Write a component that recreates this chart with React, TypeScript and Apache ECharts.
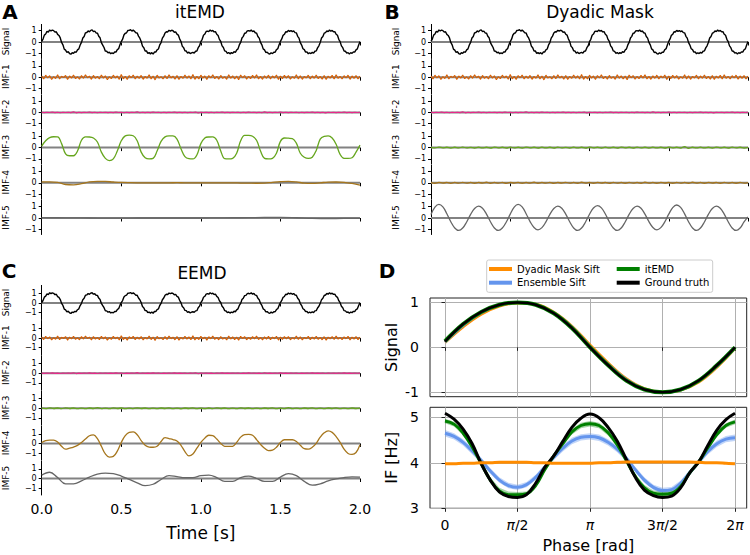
import React, { useEffect, useRef } from "react";
import * as echarts from "echarts";

const FONT = "DejaVu Sans";

// ---------- Panels A-C: time series sampled evenly over 0..2 s ----------
const signal = [
  0.05,0.26,0.61,0.71,0.94,0.88,1.07,0.97,1.06,1.01,0.87,0.91,0.67,0.58,0.36,-0.04,-0.25,-0.63,-0.72,-0.92,-0.86,-1.02,-1.08,-0.95,-1.0,-0.87,-0.91,-0.7,-0.61,-0.27,
  -0.03,0.35,0.49,0.81,0.84,0.98,0.9,1.03,1.07,0.92,0.96,0.8,0.79,0.51,0.37,-0.05,-0.27,-0.49,-0.81,-0.82,-0.96,-0.89,-1.04,-0.97,-1.03,-0.88,-0.89,-0.68,-0.59,-0.25,
  0.04,0.25,0.62,0.77,0.82,1.02,1.03,1.09,0.96,1.05,0.95,0.81,0.8,0.52,0.34,0.05,-0.36,-0.51,-0.79,-0.79,-1.01,-0.94,-1.05,-0.94,-1.07,-0.89,-0.89,-0.69,-0.62,-0.26,
  -0.05,0.34,0.52,0.8,0.91,0.89,1.04,0.97,1.04,1.0,0.86,0.9,0.69,0.61,0.28,0.04,-0.37,-0.5,-0.77,-0.8,-0.98,-0.9,-1.03,-0.96,-0.91,-0.98,-0.82,-0.8,-0.5,-0.33,
  0.03,0.24,0.6,0.7,0.93,0.97,0.92,1.07,0.96,1.02,0.89,0.92,0.69,0.58,0.23,0.05,-0.34,-0.49,-0.79,-0.83,-1.0,-0.93,-1.05,-0.94,-1.01,-0.86,-0.91,-0.71,-0.61,-0.26,
  -0.04,0.36,0.5,0.77,0.8,0.98,1.01,0.96,1.06,0.92,0.99,0.82,0.79,0.49,0.34,-0.03,-0.25,-0.61,-0.7,-0.93,-0.9,-1.02,-1.07,-0.95,-1.03,-0.9,-0.91,-0.68,-0.59,-0.25,
  0.05,0.27,0.59,0.68,0.91,0.89,1.03,0.94,1.02,0.91,0.98,0.83,0.81,0.5,0.34,-0.06,-0.27,-0.6,-0.68,-0.9,-0.88,-1.04,-0.95,-1.02,-0.92,-0.99,-0.82,-0.79,-0.52,-0.34,
  -0.04,0.35,0.49,0.78,0.83,0.99,0.92,1.06,0.95,1.02,0.9,0.92,0.69,0.59,0.24,0.03,-0.34,-0.5,-0.8,-0.82,-0.98,-0.94,-1.06,-0.94,-1.01,-0.87,-0.89,-0.69,-0.61,-0.26,
  0.04,
];

const imf1Noise = [
  0.1,-0.15,0.18,-0.07,0.13,-0.2,0.05,-0.12,0.21,-0.16,
  0.08,-0.04,0.16,-0.21,0.11,-0.08,0.19,-0.13,0.04,-0.18,
  0.15,-0.1,0.22,-0.05,0.1,-0.19,0.16,-0.11,0.07,-0.16,
  0.19,-0.08,0.13,-0.22,0.05,-0.13,0.18,-0.07,0.11,-0.19,
  0.24,-0.15,0.08,-0.21,0.15,-0.05,0.19,-0.16,0.1,-0.11,
  0.16,-0.19,0.07,-0.1,0.21,-0.15,0.11,-0.24,0.18,-0.08,
  0.05,-0.16,0.15,-0.13,0.22,-0.07,0.1,-0.18,0.16,-0.21,
  0.08,-0.11,0.19,-0.1,0.13,-0.16,0.25,-0.19,0.07,-0.15,
  0.18,-0.08,0.11,-0.21,0.15,-0.07,0.21,-0.13,0.08,-0.18,
  0.16,-0.11,0.05,-0.19,0.22,-0.1,0.13,-0.16,0.1,-0.22,
  0.19,-0.05,0.15,-0.18,0.08,-0.13,0.16,-0.08,0.21,-0.15,
  0.07,-0.19,0.13,-0.1,0.18,-0.16,0.11,-0.07,0.19,-0.21,
  0.1,-0.13,0.16,-0.08,0.15,-0.18,0.05,-0.11,0.22,-0.15,
  0.13,-0.19,0.08,-0.07,0.18,-0.16,0.11,-0.1,0.19,-0.13,
  0.07,-0.18,0.15,-0.21,0.1,-0.08,0.16,-0.15,0.21,-0.11,
  0.08,-0.16,0.13,-0.07,0.18,-0.19,0.11,-0.1,0.15,-0.16,
  0.1,
];

const imf2Noise = [
  0.01,-0.02,0.02,-0.01,0.03,-0.02,0.01,-0.03,0.02,-0.01,
  0.02,-0.02,0.05,-0.04,0.01,-0.02,0.02,-0.01,0.03,-0.02,
  0.01,-0.03,0.02,-0.01,0.02,-0.02,0.01,-0.02,0.03,-0.01,
  0.02,-0.03,0.01,-0.02,0.02,-0.01,0.06,-0.03,0.02,-0.02,
  0.01,-0.02,0.03,-0.01,0.02,-0.03,0.01,-0.02,0.02,-0.01,
  0.03,-0.02,0.01,-0.02,0.02,-0.03,0.02,-0.01,0.04,-0.05,
  0.02,-0.01,0.02,-0.02,0.01,-0.03,0.02,-0.01,0.03,-0.02,
  0.01,-0.02,0.02,-0.01,0.02,-0.03,0.01,-0.02,0.03,-0.01,
  0.02,-0.02,0.01,-0.03,0.05,-0.02,0.01,-0.02,0.02,-0.01,
  0.03,-0.02,0.01,-0.02,0.02,-0.01,0.02,-0.03,0.01,-0.02,
  0.02,-0.01,0.03,-0.02,0.01,-0.02,0.02,-0.04,0.02,-0.01,
  0.01,-0.02,0.02,-0.01,0.03,-0.02,0.01,-0.02,0.02,-0.01,
  0.01,
];

// itEMD
const itemdImf3 = [
  0.14,0.6,0.88,0.96,0.95,0.35,-0.55,-0.72,-0.72,-0.3,
  0.65,0.95,0.94,0.85,0.5,-0.4,-0.95,-1.15,-1.0,-0.3,
  0.6,1.04,1.1,1.05,0.6,-0.4,-0.9,-1.0,-0.95,-0.3,
  0.55,0.95,1.03,1.03,0.75,-0.1,-0.8,-0.98,-1.0,-0.65,
  0.35,0.85,0.94,0.95,0.65,-0.3,-0.98,-1.0,-0.95,-0.5,
  0.6,1.08,1.08,1.0,0.65,-0.3,-0.95,-1.0,-0.95,-0.5,
  0.55,0.85,0.83,0.8,0.4,-0.5,-0.85,-0.96,-0.85,-0.25,
  0.75,1.0,1.04,0.85,0.3,-0.6,-0.95,-0.96,-0.9,-0.4,
  0.22,
];
const itemdImf4 = [
  0.08,0.08,0.04,-0.15,-0.18,-0.08,0.08,0.13,0.12,0.07,
  0.03,0.01,0.0,0.0,-0.01,0.0,0.0,0.01,0.0,0.0,
  -0.01,0.0,0.0,0.0,0.0,-0.02,-0.03,-0.04,-0.03,0.04,
  0.1,0.13,0.08,-0.03,-0.05,0.0,0.06,0.07,0.04,-0.06,
  -0.2,
];
const itemdImf5 = [0.03,0.02,0.01,0.0,-0.01,-0.01,0.0,0.0,0.0,0.0,0.0,0.01,0.02,0.03,0.05,0.05,0.02,-0.03,-0.05,-0.04,-0.03];

// Dyadic mask
const maskImf3 = [
  0.03,-0.03,0.05,-0.02,0.03,-0.04,0.03,-0.03,0.05,-0.03,
  0.02,-0.04,0.04,-0.03,0.03,-0.05,0.04,-0.02,0.03,-0.04,
  0.05,-0.03,0.03,-0.04,0.04,-0.02,0.03,-0.05,0.04,-0.03,
  0.03,-0.04,0.05,-0.03,0.02,-0.04,0.04,-0.03,0.03,-0.04,
  0.05,-0.02,0.03,-0.04,0.04,-0.03,0.03,-0.05,0.04,-0.02,
  0.03,-0.04,0.05,-0.03,0.03,-0.04,0.04,-0.03,0.03,-0.05,
  0.04,-0.02,0.03,-0.04,0.09,-0.06,0.03,-0.03,0.04,-0.03,
  0.03,-0.04,0.04,-0.02,0.03,-0.04,0.05,-0.03,0.03,-0.04,
  0.02,
];
const maskImf4 = [
  0.02,-0.04,0.04,-0.02,0.03,-0.05,0.03,-0.03,0.04,-0.03,
  0.03,-0.04,0.03,-0.02,0.05,-0.04,0.03,-0.03,0.04,-0.05,
  0.03,-0.02,0.04,-0.04,0.03,-0.03,0.05,-0.04,0.03,-0.03,
  0.04,-0.05,0.03,-0.02,0.04,-0.03,0.03,-0.04,0.05,-0.03,
  0.03,-0.04,0.04,-0.02,0.03,-0.05,0.04,-0.03,0.03,-0.04,
  0.04,-0.03,0.03,-0.04,0.05,-0.03,0.03,-0.04,0.04,-0.02,
  0.03,-0.04,0.04,-0.03,0.03,-0.04,0.05,-0.03,0.03,-0.04,
  0.04,-0.02,0.03,-0.04,0.04,-0.03,0.03,-0.04,0.04,-0.03,
  0.02,
];
const maskImf5 = [
  0.3,0.96,1.2,0.98,0.38,-0.33,-0.88,-1.1,-0.89,-0.35,
  0.32,0.84,1.05,0.86,0.34,-0.33,-0.88,-1.1,-0.89,-0.35,
  0.34,0.96,1.2,0.98,0.38,-0.32,-0.84,-1.05,-0.85,-0.34,
  0.32,0.84,1.05,0.86,0.34,-0.33,-0.88,-1.1,-0.89,-0.35,
  0.33,0.88,1.1,0.9,0.35,-0.33,-0.88,-1.1,-0.89,-0.35,
  0.32,0.84,1.05,0.86,0.34,-0.32,-0.84,-1.05,-0.85,-0.34,
  0.34,0.92,1.15,0.94,0.37,-0.33,-0.88,-1.1,-0.89,-0.35,
  0.32,0.84,1.05,0.86,0.34,-0.33,-0.88,-1.1,-0.89,-0.35,
  0.1,
];

// EEMD
const eemdImf3 = [
  0.02,-0.03,0.04,-0.02,0.03,-0.04,0.05,-0.02,0.03,-0.03,
  0.02,-0.04,0.03,-0.02,0.06,-0.03,0.02,-0.03,0.04,-0.02,
  0.03,-0.04,0.02,-0.03,0.05,-0.02,0.03,-0.03,0.02,-0.04,
  0.03,-0.02,0.04,-0.03,0.02,-0.05,0.03,-0.02,0.04,-0.03,
  0.02,-0.03,0.03,-0.04,0.05,-0.02,0.03,-0.03,0.02,-0.03,
  0.04,-0.02,0.03,-0.04,0.02,-0.03,0.03,-0.02,0.04,-0.03,
  0.02,-0.03,0.07,-0.03,0.02,-0.04,0.03,-0.02,0.04,-0.03,
  0.02,-0.03,0.03,-0.02,0.04,-0.03,0.02,-0.03,0.03,-0.02,
  0.02,
];
const eemdImf4 = [
  0.1,0.3,0.35,0.35,0.15,-0.3,-0.6,-0.5,-0.38,-0.2,
  0.1,0.45,0.8,0.88,0.5,-0.3,-1.1,-1.42,-1.35,-0.8,
  0.1,0.8,1.15,1.2,0.9,0.3,-0.2,-0.38,-0.4,-0.3,
  0.2,0.6,0.5,0.4,0.25,-0.2,-0.85,-1.3,-1.1,-0.5,
  0.1,0.55,0.85,0.8,0.45,0.0,-0.3,-0.32,-0.3,0.1,
  0.65,0.92,0.95,0.85,0.4,-0.1,-0.5,-0.75,-0.7,-0.4,
  0.1,0.38,0.38,0.38,0.2,-0.2,-0.55,-0.6,-0.4,0.0,
  0.65,1.1,1.3,1.15,0.7,0.1,-0.6,-1.05,-1.15,-0.95,
  -0.15,
];
const eemdImf5 = [
  0.35,0.65,0.1,-0.55,-0.55,-0.25,0.15,0.45,0.55,0.5,
  0.25,-0.1,-0.45,-0.75,-0.6,-0.1,0.3,0.2,0.1,0.1,
  0.3,0.35,0.1,-0.3,-0.3,0.1,0.25,0.0,-0.3,-0.3,
  0.15,0.5,0.3,-0.3,-0.7,-0.55,-0.25,-0.05,0.1,0.17,
  0.15,
];

const rowNames = ["Signal", "IMF-1", "IMF-2", "IMF-3", "IMF-4", "IMF-5"];
const rowColors = ["#000000", "#d95f02", "#e7298a", "#66a61e", "#a6761d", "#666666"];
const rowTicks = [-1, 0, 1];
const zeroLine = [[0, 0], [2, 0]];

// ---------- Panel D: phase-aligned (0..2π) ----------
const sigGround = [0.13,0.52,0.79,0.95,1.0,0.95,0.76,0.43,0.0,-0.4,-0.74,-0.94,-1.0,-0.94,-0.74,-0.4,0.0];
const sigItemd = [0.14,0.52,0.79,0.95,1.0,0.95,0.76,0.43,0.0,-0.4,-0.74,-0.94,-1.0,-0.94,-0.74,-0.4,0.0];
const sigEnsemble = [0.12,0.49,0.77,0.94,1.0,0.955,0.77,0.45,0.02,-0.38,-0.72,-0.93,-1.0,-0.945,-0.75,-0.42,-0.01];
const sigMask = [0.11,0.46,0.74,0.92,0.99,0.96,0.78,0.47,0.05,-0.35,-0.7,-0.92,-0.995,-0.95,-0.77,-0.44,-0.02];

const ifGround = [5.09,4.96,4.74,4.42,3.98,3.62,3.36,3.26,3.24,3.3,3.55,3.9,4.15,4.47,4.78,4.98,5.07,4.99,4.78,4.48,4.08,3.68,3.4,3.28,3.24,3.27,3.45,3.78,4.02,4.38,4.72,4.95,5.09];
const ifItemd = [4.92,4.85,4.65,4.35,3.98,3.62,3.38,3.3,3.3,3.32,3.5,3.85,4.15,4.42,4.68,4.82,4.86,4.82,4.66,4.4,4.05,3.7,3.45,3.33,3.31,3.33,3.48,3.78,4.02,4.33,4.62,4.82,4.9];
const ifItemdSpread = [0.05,0.05,0.05,0.05,0.05,0.06,0.07,0.07,0.06,0.05,0.05,0.05,0.05,0.05,0.06,0.06,0.06,0.06,0.06,0.05,0.05,0.05,0.06,0.06,0.06,0.05,0.05,0.05,0.05,0.05,0.05,0.05,0.05];
const ifEnsemble = [4.65,4.58,4.45,4.26,4.05,3.82,3.62,3.5,3.46,3.52,3.68,3.9,4.12,4.32,4.48,4.56,4.58,4.55,4.45,4.3,4.1,3.85,3.62,3.46,3.39,3.41,3.55,3.78,4.02,4.25,4.42,4.52,4.55];
const ifEnsembleSpread = [0.07,0.07,0.07,0.07,0.06,0.06,0.06,0.06,0.06,0.06,0.06,0.06,0.06,0.07,0.07,0.07,0.07,0.07,0.07,0.07,0.06,0.06,0.06,0.06,0.06,0.06,0.06,0.06,0.06,0.07,0.07,0.07,0.07];
const ifMask = [3.98,3.98,3.99,3.99,4.0,4.0,4.01,4.01,4.01,4.01,4.0,4.0,3.99,3.99,3.99,3.99,3.99,4.0,4.0,4.01,4.02,4.02,4.02,4.02,4.02,4.02,4.02,4.02,4.01,4.0,4.0,3.99,3.98];

const phaseTicks = [0, Math.PI / 2, Math.PI, (3 * Math.PI) / 2, 2 * Math.PI];
const phaseTickLabels = ["0", "{i|π}/2", "{i|π}", "3{i|π}/2", "2{i|π}"];

const C_MASK = "#ff8c00";
const C_ENS = "#6495ed";
const C_IT = "#008000";
const C_GT = "#000000";

const toTime = (vals: number[]) => vals.map((v, i) => [(i * 2) / (vals.length - 1), v]);
const toPhase = (vals: number[]) => vals.map((v, i) => [(i * 2 * Math.PI) / (vals.length - 1), v]);

function buildOption() {
  const grid: any[] = [];
  const xAxis: any[] = [];
  const yAxis: any[] = [];
  const series: any[] = [];

  const rowsA = [42, 77.2, 112.4, 147.6, 182.8, 218];
  const rowsC = [303, 338.1, 373.2, 408.3, 443.4, 478.5];
  const panels = [
    { left: 41.7, width: 318.3, y0: rowsA, unit: 11.3, rows: [signal, imf1Noise, imf2Noise, itemdImf3, itemdImf4, itemdImf5], time: false },
    { left: 431, width: 317, y0: rowsA, unit: 11.3, rows: [signal, imf1Noise, imf2Noise, maskImf3, maskImf4, maskImf5], time: false },
    { left: 41.7, width: 318.3, y0: rowsC, unit: 9.6, rows: [signal, imf1Noise, imf2Noise, eemdImf3, eemdImf4, eemdImf5], time: true },
  ];

  panels.forEach((p) => {
    p.rows.forEach((vals, ri) => {
      const idx = grid.length;
      const last = ri === 5;
      grid.push({ left: p.left, top: p.y0[ri] - 17.6, width: p.width, height: 34.1 });
      xAxis.push({
        gridIndex: idx, type: "value", min: 0, max: 2, interval: 0.5,
        axisLine: { show: false },
        axisTick: { show: true, length: 3.5, lineStyle: { color: "#000", width: 1 } },
        axisLabel: {
          show: last && p.time, margin: 7, fontSize: 14, color: "#000", fontFamily: FONT,
          formatter: (v: number) => v.toFixed(1),
        },
        splitLine: { show: false },
        name: last && p.time ? "Time [s]" : "",
        nameLocation: "middle", nameGap: 29,
        nameTextStyle: { fontSize: 17, color: "#000", fontFamily: FONT },
      });
      yAxis.push({
        gridIndex: idx, type: "value", min: -16.5 / p.unit, max: 17.6 / p.unit,
        axisLine: { show: true, lineStyle: { color: "#000", width: 1 } },
        axisTick: { show: true, length: 3, customValues: rowTicks, lineStyle: { color: "#000", width: 1 } },
        axisLabel: {
          customValues: rowTicks, margin: 5, fontSize: 8, color: "#000", fontFamily: FONT,
          formatter: (v: number) => (v < 0 ? "\u2212" + Math.abs(v) : String(v)),
        },
        splitLine: { show: false },
        name: rowNames[ri], nameLocation: "middle", nameGap: 31,
        nameTextStyle: { fontSize: 9, color: "#000", fontFamily: FONT },
      });
      series.push({
        type: "line", xAxisIndex: idx, yAxisIndex: idx, data: zeroLine, symbol: "none", silent: true,
        lineStyle: { color: "#828282", width: 2 }, z: 1,
      });
      series.push({
        type: "line", xAxisIndex: idx, yAxisIndex: idx, data: toTime(vals), symbol: "none", silent: true,
        smooth: ri >= 3 ? 0.4 : false,
        lineStyle: { color: rowColors[ri], width: ri === 0 ? 1.4 : ri >= 3 ? 1.3 : 1.1 }, z: 2,
      });
    });
  });

  // Panel D
  const gS = grid.length;
  grid.push({ left: 430, top: 298, width: 316.7, height: 98.7, show: true, borderColor: "#222", borderWidth: 1, backgroundColor: "transparent" });
  const gF = grid.length;
  grid.push({ left: 430, top: 407.3, width: 316.7, height: 101, show: true, borderColor: "#222", borderWidth: 1, backgroundColor: "transparent" });

  const phaseAxis = (gi: number, labels: boolean) => ({
    gridIndex: gi, type: "value", min: -0.325, max: 6.537,
    axisLine: { show: false },
    axisTick: { show: true, length: 3.5, customValues: phaseTicks, lineStyle: { color: "#222", width: 1 } },
    axisLabel: {
      show: labels, customValues: phaseTicks, margin: 10, fontSize: 14, color: "#000", fontFamily: FONT,
      formatter: (v: number) => {
        let k = 0;
        phaseTicks.forEach((t, i) => { if (Math.abs(t - v) < 1e-6) k = i; });
        return phaseTickLabels[k];
      },
      rich: { i: { fontStyle: "italic", fontSize: 14, fontFamily: FONT, color: "#000" } },
    },
    splitLine: { show: true, lineStyle: { color: "#b0b0b0", width: 1 } },
    name: labels ? "Phase [rad]" : "", nameLocation: "middle", nameGap: 29,
    nameTextStyle: { fontSize: 16, color: "#000", fontFamily: FONT },
  });
  xAxis.push(phaseAxis(gS, false));
  xAxis.push(phaseAxis(gF, true));

  yAxis.push({
    gridIndex: gS, type: "value", min: -1.1, max: 1.1,
    axisLine: { show: false },
    axisTick: { show: true, length: 3.5, customValues: [-1, 0, 1], lineStyle: { color: "#222" } },
    axisLabel: { customValues: [-1, 0, 1], margin: 11, fontSize: 14, color: "#000", fontFamily: FONT, formatter: (v: number) => String(v) },
    splitLine: { show: true, lineStyle: { color: "#b0b0b0", width: 1 } },
    name: "Signal", nameLocation: "middle", nameGap: 31,
    nameTextStyle: { fontSize: 16, color: "#000", fontFamily: FONT },
  });
  yAxis.push({
    gridIndex: gF, type: "value", min: 3, max: 5.22,
    axisLine: { show: false },
    axisTick: { show: true, length: 3.5, customValues: [3, 4, 5], lineStyle: { color: "#222" } },
    axisLabel: { customValues: [3, 4, 5], margin: 11, fontSize: 14, color: "#000", fontFamily: FONT, formatter: (v: number) => String(v) },
    splitLine: { show: true, lineStyle: { color: "#b0b0b0", width: 1 } },
    name: "IF [Hz]", nameLocation: "middle", nameGap: 31,
    nameTextStyle: { fontSize: 16, color: "#000", fontFamily: FONT },
  });

  const dLine = (name: string, gi: number, data: number[], color: string, width: number) => ({
    name, type: "line", xAxisIndex: gi, yAxisIndex: gi, data: toPhase(data), symbol: "none", silent: true,
    smooth: 0.4, color, itemStyle: { color }, lineStyle: { color, width }, z: 2,
  });
  const band = (gi: number, mean: number[], spread: number[], fill: string) => {
    const pts = mean.map((m, i) => [(i * 2 * Math.PI) / (mean.length - 1), m - spread[i], m + spread[i]]);
    return {
      type: "custom", xAxisIndex: gi, yAxisIndex: gi, silent: true, z: 2, clip: true,
      data: pts, encode: { x: 0, y: [1, 2] },
      renderItem: (params: any, api: any) => {
        if (params.dataIndex !== 0) return null;
        const upper = pts.map((q) => api.coord([q[0], q[2]]));
        const lower = pts.map((q) => api.coord([q[0], q[1]])).reverse();
        return { type: "polygon", shape: { points: upper.concat(lower) }, style: { fill: fill } };
      },
    };
  };

  series.push(dLine("Dyadic Mask Sift", gS, sigMask, C_MASK, 3));
  series.push(dLine("Ensemble Sift", gS, sigEnsemble, C_ENS, 3));
  series.push(dLine("itEMD", gS, sigItemd, C_IT, 4));
  series.push(dLine("Ground truth", gS, sigGround, C_GT, 2.5));

  series.push(band(gF, ifEnsemble, ifEnsembleSpread, "rgba(100,149,237,0.4)"));
  series.push(dLine("Ensemble Sift", gF, ifEnsemble, C_ENS, 3));
  series.push(band(gF, ifItemd, ifItemdSpread, "rgba(0,128,0,0.35)"));
  series.push(dLine("itEMD", gF, ifItemd, C_IT, 3));
  series.push(dLine("Ground truth", gF, ifGround, C_GT, 3));
  series.push(dLine("Dyadic Mask Sift", gF, ifMask, C_MASK, 3));

  const legendBase = {
    orient: "vertical", top: 264, itemWidth: 23, itemHeight: 4, itemGap: 3.7, padding: 0,
    icon: "rect", selectedMode: false,
    textStyle: { fontSize: 10, color: "#000", fontFamily: FONT },
  };

  const txt = (x: number, y: number, text: string, size: number, bold: boolean) => ({
    type: "text", x, y, silent: true,
    style: { text, fontSize: size, fontWeight: bold ? "bold" : "normal", fontFamily: FONT, fill: "#000", align: "center", verticalAlign: "middle" },
  });

  return {
    animation: false,
    backgroundColor: "#ffffff",
    textStyle: { fontFamily: FONT },
    grid, xAxis, yAxis, series,
    legend: [
      { ...legendBase, left: 489, data: ["Dyadic Mask Sift", "Ensemble Sift"] },
      { ...legendBase, left: 616.7, data: ["itEMD", "Ground truth"] },
    ],
    graphic: [
      { type: "rect", shape: { x: 486.7, y: 260, width: 226, height: 32.3, r: 2 }, style: { fill: "transparent", stroke: "#cccccc", lineWidth: 1 }, silent: true },
      txt(10, 12, "A", 20, true),
      txt(392, 12, "B", 20, true),
      txt(9, 271, "C", 20, true),
      txt(387, 271, "D", 20, true),
      txt(200, 12, "itEMD", 17, false),
      txt(600, 12, "Dyadic Mask", 17, false),
      txt(202, 273, "EEMD", 17, false),
    ],
  };
}

export default function App() {
  const ref = useRef<HTMLDivElement>(null);
  useEffect(() => {
    document.body.style.margin = "0";
    if (!ref.current) return;
    const chart = echarts.init(ref.current, undefined, { renderer: "svg" });
    chart.setOption(buildOption() as any);
    return () => chart.dispose();
  }, []);
  return <div ref={ref} style={{ width: 750, height: 555 }} />;
}
